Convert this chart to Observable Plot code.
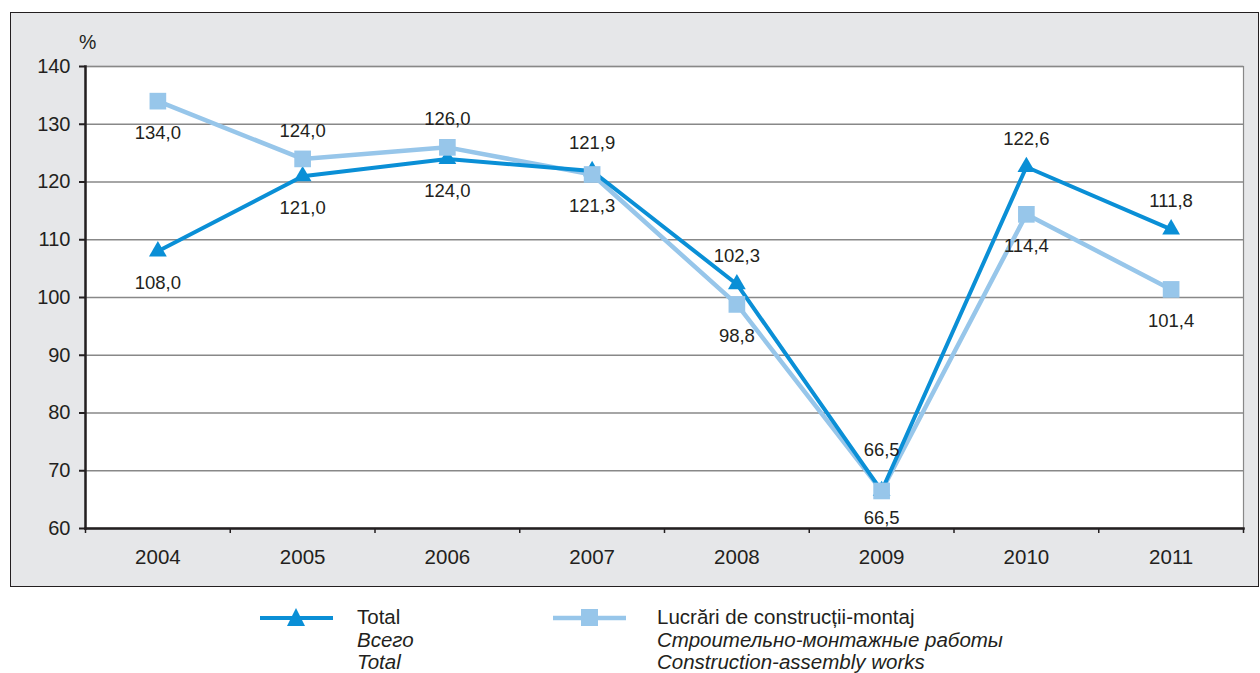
<!DOCTYPE html>
<html><head><meta charset="utf-8">
<script src="https://cdn.jsdelivr.net/npm/d3@7"></script>
<script src="https://cdn.jsdelivr.net/npm/@observablehq/plot@0.6"></script>
<style>
body{margin:0;background:#fff;font-family:"Liberation Sans",Arial,sans-serif;}
#wrap{position:relative;width:1260px;height:673px;overflow:hidden;}
#panel{position:absolute;left:10px;top:12px;width:1247px;height:573px;background:#e6e7e9;border:1.5px solid #231f20;}
#chart{position:absolute;left:0;top:0;}
#chart svg text{font-family:"Liberation Sans",Arial,sans-serif;}
#chart svg g[aria-label="y-axis tick label"] text{font-size:20px;}
#chart svg g[aria-label="x-axis tick label"] text{font-size:20.5px;}
#chart svg g.lbl text{font-size:18.5px;}
.leg{position:absolute;font-size:20.5px;color:#231f20;line-height:22.5px;}
.leg i{font-style:italic;}
.pct{position:absolute;left:79px;top:31px;font-size:19.5px;color:#231f20;}
</style></head><body>
<div id="wrap">
<div id="panel"></div>
<div class="pct">%</div>
<div id="chart"></div>
<svg style="position:absolute;left:255px;top:605px" width="85" height="28">
<line x1="5" y1="13" x2="78" y2="13" stroke="#0a8fd6" stroke-width="4"/>
<path d="M41,3 L50,21 L32,21 Z" fill="#0a8fd6"/>
</svg>
<div class="leg" style="left:357px;top:606px">Total<br><i>Всего</i><br><i>Total</i></div>
<svg style="position:absolute;left:548px;top:605px" width="85" height="28">
<line x1="5" y1="13" x2="78" y2="13" stroke="#97c6ea" stroke-width="4.5"/>
<rect x="33" y="4" width="17" height="17" fill="#97c6ea"/>
</svg>
<div class="leg" style="left:657px;top:606px">Lucrări de construcții-montaj<br><i>Строительно-монтажные работы</i><br><i>Construction-assembly works</i></div>
</div>
<script>
const years = [2004, 2005, 2006, 2007, 2008, 2009, 2010, 2011];
const totalValues = [108.0, 121.0, 124.0, 121.9, 102.3, 66.5, 122.6, 111.8];
const constrValues = [134.0, 124.0, 126.0, 121.3, 98.8, 66.5, 114.4, 101.4];
// label placement: 1 = above the point, 2 = further above, -1 = below, -2 = just below
const totalLabelPos = [-1, -1, -1, 1, 1, 2, 1, 1];
const constrLabelPos = [-1, 1, 1, -1, -1, -2, -1, -1];
const yTicks = [60, 70, 80, 90, 100, 110, 120, 130, 140];

const total = years.map((y, i) => ({year: y, value: totalValues[i], pos: totalLabelPos[i]}));
const constr = years.map((y, i) => ({year: y, value: constrValues[i], pos: constrLabelPos[i]}));
const bounds = years.map(y => y - 0.5).concat([years[years.length - 1] + 0.5]);
const fmt = v => d3.format(".1f")(v).replace(".", ",");

const cDark = "#0a8fd6", cLight = "#97c6ea", ink = "#231f20";
const offsets = {"1": -28, "2": -41, "-1": 32, "-2": 27};
const labelMarks = (data) => Object.keys(offsets).map(k =>
  Plot.text(data.filter(d => String(d.pos) === k), {x: "year", y: "value", text: d => fmt(d.value), dy: offsets[k], fill: ink, className: "lbl"})
);

const chart = Plot.plot({
  width: 1260, height: 586,
  marginLeft: 85, marginRight: 17, marginTop: 66, marginBottom: 58,
  style: {background: "transparent", color: ink},
  x: {type: "linear", domain: [bounds[0], bounds[bounds.length - 1]]},
  y: {domain: [60, 140]},
  marks: [
    Plot.frame({fill: "white", stroke: "#888", strokeWidth: 1.2}),
    Plot.ruleY(yTicks, {stroke: "#888", strokeWidth: 1.5}),
    Plot.ruleX(bounds, {x: d => d, y1: 60, y2: 60, insetBottom: -5, stroke: ink, strokeWidth: 1.5}),
    Plot.frame({anchor: "left", stroke: ink, strokeWidth: 2.5}),
    Plot.frame({anchor: "bottom", stroke: ink, strokeWidth: 2.5}),
    Plot.axisY({ticks: yTicks, tickSize: 6, tickPadding: 9, label: null, stroke: ink, strokeWidth: 2, fill: ink}),
    Plot.axisX({ticks: years, tickSize: 0, tickPadding: 21, tickFormat: d => String(d), label: null, fill: ink}),
    Plot.lineY(constr, {x: "year", y: "value", stroke: cLight, strokeWidth: 4.5}),
    Plot.lineY(total, {x: "year", y: "value", stroke: cDark, strokeWidth: 4}),
    Plot.dot(total, {x: "year", y: "value", symbol: "triangle", r: 6.6, fill: cDark}),
    Plot.dot(constr, {x: "year", y: "value", symbol: "square", r: 9.4, fill: cLight}),
    ...labelMarks(total),
    ...labelMarks(constr)
  ]
});
document.getElementById("chart").appendChild(chart);
</script>
</body></html>
